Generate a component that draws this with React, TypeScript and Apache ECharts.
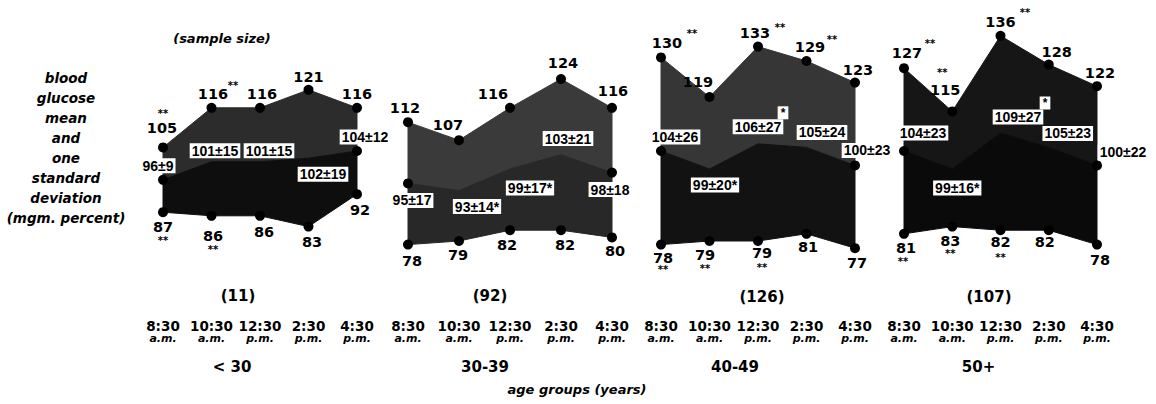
import React, { useEffect, useRef } from 'react';
import * as echarts from 'echarts';

// ---------- data ----------
const ageGroups = ['< 30', '30-39', '40-49', '50+'];
const sampleSizes = [11, 92, 126, 107];
const timeLabels = ['8:30', '10:30', '12:30', '2:30', '4:30'];
const periodLabels = ['a.m.', 'a.m.', 'p.m.', 'p.m.', 'p.m.'];

const meanValues = [
  [96, 101, 101, 102, 104],
  [95, 93, 99, 103, 98],
  [104, 99, 106, 105, 100],
  [104, 99, 109, 105, 100],
];
const sdValues = [
  [9, 15, 15, 19, 12],
  [17, 14, 17, 21, 18],
  [26, 20, 27, 24, 23],
  [23, 16, 27, 23, 22],
];
const upperValues = [
  [105, 116, 116, 121, 116],
  [112, 107, 116, 124, 116],
  [130, 119, 133, 129, 123],
  [127, 115, 136, 128, 122],
];
const lowerValues = [
  [87, 86, 86, 83, 92],
  [78, 79, 82, 82, 80],
  [78, 79, 79, 81, 77],
  [81, 83, 82, 82, 78],
];
const upperStars = [
  ['**', '**', '', '', ''],
  ['', '', '', '', ''],
  ['**', '', '**', '**', ''],
  ['**', '**', '**', '', ''],
];
const lowerStars = [
  ['**', '**', '', '', ''],
  ['', '', '', '', ''],
  ['**', '**', '**', '', ''],
  ['**', '**', '**', '', ''],
];
const meanStars = [
  ['', '', '', '', ''],
  ['', '*', '*', '', ''],
  ['', '*', '*', '', ''],
  ['', '*', '*', '', ''],
];

// ---------- layout / style ----------
const FONT = '"DejaVu Sans", sans-serif';
const BOX_FONT = '"Liberation Sans", Arial, sans-serif';
const GRID_LEFT = [163, 408, 661, 904];
const GRID_WIDTH = [194, 204, 194, 193];
const GRID_TOP = 21.4;
const GRID_HEIGHT = 252;
const upperFill = ['#2c2c2c', '#3a3a3a', '#363636', '#161616'];
const lowerFill = ['#0e0e0e', '#282828', '#121212', '#0a0a0a'];

const upperOff = [
  [[-1, -19], [1.5, -14], [2, -14], [0, -13], [0, -14]],
  [[-3, -14], [-11, -15], [-17, -14], [2, -16], [1, -17]],
  [[6, -14], [-11.5, -15], [-3, -14], [3.5, -14], [3, -13]],
  [[3, -15], [-7, -21], [0, -14], [8, -13], [3, -13]],
];
const upperStarOff = [
  [[0, -34], [21.5, -22], null, null, null],
  [null, null, null, null, null],
  [[31, -24], null, [22, -19], [25.5, -22], null],
  [[26, -25], [-10, -39], [24.5, -23], null, null],
];
const lowerOff = [
  [[0, 15], [1.5, 20], [4, 16], [3.5, 15], [3, 16]],
  [[4, 16], [-1, 14], [-3, 15], [4, 15], [3, 14]],
  [[2, 13], [-4.5, 14], [4, 12], [1.5, 13], [2, 15]],
  [[2, 14], [-2, 14], [0, 12], [-4, 12], [3, 15]],
];
const lowerStarOff = [
  [[0, 28], [1.5, 34], null, null, null],
  [null, null, null, null, null],
  [[2, 25], [-4.5, 27], [4, 26], null, null],
  [[-1, 28], [-2, 27], [0, 27], null, null],
];
const meanOff = [
  [[-5, -14], [3.5, -11], [9, -11], [14.5, 16], [8, -14]],
  [[4, 17], [18, 16], [20, 19], [7, -16], [-2, 17]],
  [[14, -14], [5.5, 16], [0, -17], [15.5, -15], [12, -15]],
  [[19, -18], [5, 19], [17.5, -16], [19, -14], [26, -13]],
];
// null = star printed right after the label inside its box
const meanStarOff = [
  [null, null, null, null, null],
  [null, null, null, null, null],
  [null, null, [25, -31], null, null],
  [null, null, [44.5, -30], null, null],
];
const sampleSizePos = [[238, 296], [490, 296], [762, 297], [989, 297]];
const ageNamePadRight = [56, 50, 46, 44];

function buildOption() {
  const grid: any[] = [];
  const xAxis: any[] = [];
  const yAxis: any[] = [];
  const series: any[] = [];

  for (let p = 0; p < 4; p++) {
    grid.push({
      left: GRID_LEFT[p],
      width: GRID_WIDTH[p],
      top: GRID_TOP,
      height: GRID_HEIGHT,
      containLabel: false,
      outerBoundsMode: 'none',
    });
    xAxis.push({
      type: 'category',
      gridIndex: p,
      data: timeLabels,
      boundaryGap: false,
      axisLine: { show: false },
      axisTick: { show: false },
      splitLine: { show: false },
      axisLabel: {
        interval: 0,
        margin: 47,
        formatter: (v: string, idx: number) => `{t|${v}}\n{m|${periodLabels[idx]}}`,
        rich: {
          t: { fontSize: 13.5, fontWeight: 'bold', fontFamily: FONT, color: '#000', lineHeight: 12 },
          m: { fontSize: 11, fontWeight: 'bold', fontStyle: 'italic', fontFamily: FONT, color: '#000', lineHeight: 13 },
        },
      },
      name: ageGroups[p],
      nameLocation: 'middle',
      nameGap: 86,
      nameTextStyle: {
        fontSize: 15,
        fontWeight: 'bold',
        fontFamily: FONT,
        color: '#000',
        padding: [0, ageNamePadRight[p], 0, 0],
      },
    });
    yAxis.push({ type: 'value', gridIndex: p, min: 70, max: 140, show: false });

    // band polygons (upper: mean..mean+sd, lower: mean-sd..mean)
    series.push({
      type: 'custom',
      coordinateSystem: 'cartesian2d',
      xAxisIndex: p,
      yAxisIndex: p,
      silent: true,
      z: 1,
      data: [[0, meanValues[p][0]]],
      renderItem: (_params: any, api: any) => {
        const up = upperValues[p].map((v, i) => api.coord([i, v]));
        const mn = meanValues[p].map((v, i) => api.coord([i, v]));
        const lo = lowerValues[p].map((v, i) => api.coord([i, v]));
        return {
          type: 'group',
          children: [
            {
              type: 'polygon',
              shape: { points: [...up, ...mn.slice().reverse()] },
              style: { fill: upperFill[p], stroke: upperFill[p], lineWidth: 1 },
            },
            {
              type: 'polygon',
              shape: { points: [...mn, ...lo.slice().reverse()] },
              style: { fill: lowerFill[p], stroke: lowerFill[p], lineWidth: 1 },
            },
          ],
        };
      },
    });

    // dots
    const dots: any[] = [];
    upperValues[p].forEach((v, i) => dots.push([i, v]));
    lowerValues[p].forEach((v, i) => dots.push([i, v]));
    dots.push([0, meanValues[p][0]]);
    dots.push([4, meanValues[p][4]]);
    series.push({
      type: 'scatter',
      xAxisIndex: p,
      yAxisIndex: p,
      silent: true,
      z: 2,
      symbol: 'circle',
      symbolSize: 10,
      itemStyle: { color: '#000', opacity: 1 },
      data: dots,
    });

    // labels
    const labs: any[] = [];
    const push = (i: number, v: number, text: string, off: number[], extra: any) => {
      labs.push({ value: [i, v], name: text, label: { offset: off, ...extra } });
    };
    const numStyle = { fontSize: 14.5 };
    const starStyle = { fontSize: 10, lineHeight: 10 };
    const boxStyle = { fontSize: 14, fontFamily: BOX_FONT, backgroundColor: '#fff', padding: [1, 2, 0, 2] };
    for (let i = 0; i < 5; i++) {
      push(i, upperValues[p][i], String(upperValues[p][i]), upperOff[p][i], numStyle);
      if (upperStars[p][i] && upperStarOff[p][i])
        push(i, upperValues[p][i], upperStars[p][i], upperStarOff[p][i] as number[], starStyle);
      push(i, lowerValues[p][i], String(lowerValues[p][i]), lowerOff[p][i], numStyle);
      if (lowerStars[p][i] && lowerStarOff[p][i])
        push(i, lowerValues[p][i], lowerStars[p][i], lowerStarOff[p][i] as number[], starStyle);
      const trailing = meanStars[p][i] && !meanStarOff[p][i] ? meanStars[p][i] : '';
      push(i, meanValues[p][i], `${meanValues[p][i]}±${sdValues[p][i]}${trailing}`, meanOff[p][i], boxStyle);
      if (meanStars[p][i] && meanStarOff[p][i])
        push(i, meanValues[p][i], meanStars[p][i], meanStarOff[p][i] as number[], {
          fontSize: 12,
          fontFamily: BOX_FONT,
          backgroundColor: '#fff',
          padding: [1, 3, 0, 3],
        });
    }
    series.push({
      type: 'scatter',
      xAxisIndex: p,
      yAxisIndex: p,
      silent: true,
      z: 3,
      symbol: 'circle',
      symbolSize: 1,
      itemStyle: { color: 'rgba(0,0,0,0)', opacity: 1 },
      label: {
        show: true,
        position: 'inside',
        formatter: '{b}',
        fontFamily: FONT,
        fontWeight: 'bold',
        color: '#000',
        opacity: 1,
      },
      data: labs,
    });
  }

  const textStyle = (extra: any) => ({
    fontFamily: FONT,
    fontWeight: 'bold',
    fill: '#000',
    align: 'center',
    verticalAlign: 'middle',
    ...extra,
  });

  const graphic: any[] = [
    {
      type: 'text',
      x: 222,
      y: 38,
      silent: true,
      style: textStyle({ text: '(sample size)', fontSize: 13, fontStyle: 'italic' }),
    },
    {
      type: 'text',
      x: 66,
      y: 148,
      silent: true,
      style: textStyle({
        text: 'blood\nglucose\nmean\nand\none\nstandard\ndeviation\n(mgm. percent)',
        fontSize: 13.5,
        fontStyle: 'italic',
        lineHeight: 20,
      }),
    },
    {
      type: 'text',
      x: 577,
      y: 389,
      silent: true,
      style: textStyle({ text: 'age groups (years)', fontSize: 13, fontStyle: 'italic' }),
    },
  ];
  sampleSizes.forEach((n, p) => {
    graphic.push({
      type: 'text',
      x: sampleSizePos[p][0],
      y: sampleSizePos[p][1],
      silent: true,
      style: textStyle({ text: `(${n})`, fontSize: 15 }),
    });
  });

  return {
    animation: false,
    backgroundColor: '#fff',
    grid,
    xAxis,
    yAxis,
    series,
    graphic,
  };
}

export default function App() {
  const ref = useRef<HTMLDivElement>(null);
  useEffect(() => {
    if (!ref.current) return;
    const chart = echarts.init(ref.current, null, { renderer: 'svg' });
    chart.setOption(buildOption() as any);
    return () => chart.dispose();
  }, []);
  return (
    <div
      ref={ref}
      style={{ position: 'fixed', left: 0, top: 0, width: 1156, height: 404, background: '#fff' }}
    />
  );
}
